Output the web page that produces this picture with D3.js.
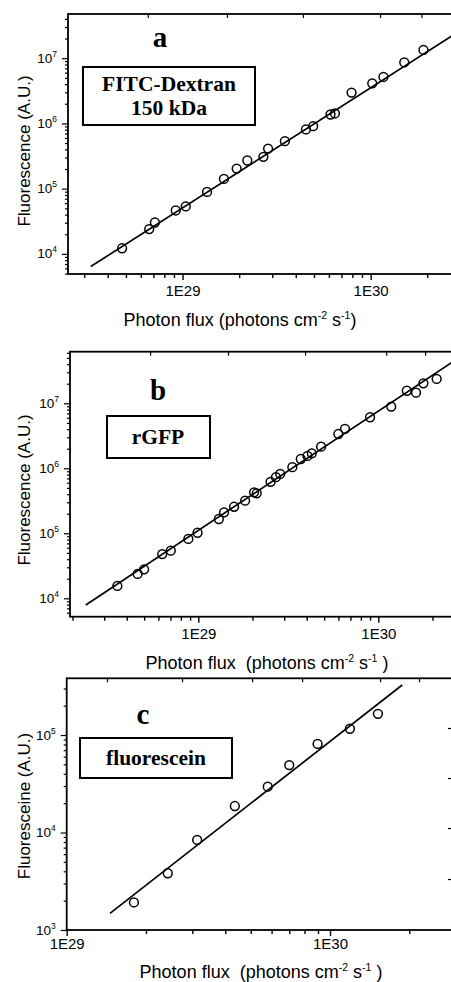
<!DOCTYPE html>
<html>
<head>
<meta charset="utf-8">
<script src="https://cdn.jsdelivr.net/npm/d3@7/dist/d3.min.js"></script>
<style>
  body { margin: 0; background: #fff; }
  svg text { white-space: pre; }
</style>
</head>
<body>
<div id="chart"></div>
<script>
// panel a : FITC-Dextran 150 kDa
var fluxA = [4.77e28, 6.65e28, 7.13e28, 9.2e28, 1.04e29, 1.35e29, 1.66e29, 1.94e29, 2.21e29, 2.69e29,
             2.85e29, 3.5e29, 4.53e29, 4.95e29, 6.12e29, 6.46e29, 7.92e29, 1.02e30, 1.17e30, 1.51e30, 1.91e30];
var fluorA = [1.22e4, 2.4e4, 3.03e4, 4.63e4, 5.35e4, 8.9e4, 1.41e5, 2.03e5, 2.7e5, 3.08e5,
              4.12e5, 5.35e5, 8.1e5, 9.08e5, 1.37e6, 1.42e6, 2.97e6, 4.12e6, 5.15e6, 8.6e6, 1.34e7];
var fitA = [[3.25e28, 6.4e3], [2.82e30, 2.37e7]];

// panel b : rGFP
var fluxB = [3.55e28, 4.6e28, 5.0e28, 6.3e28, 7.03e28, 8.8e28, 9.9e28, 1.3e29, 1.39e29, 1.58e29,
             1.82e29, 2.04e29, 2.11e29, 2.52e29, 2.7e29, 2.85e29, 3.33e29, 3.71e29, 4.04e29, 4.27e29,
             4.81e29, 6.0e29, 6.53e29, 9.0e29, 1.18e30, 1.44e30, 1.62e30, 1.78e30, 2.11e30];
var fluorB = [1.55e4, 2.37e4, 2.79e4, 4.8e4, 5.4e4, 8.2e4, 1.02e5, 1.66e5, 2.1e5, 2.56e5,
              3.18e5, 4.27e5, 4.12e5, 6.2e5, 7.3e5, 8.2e5, 1.04e6, 1.39e6, 1.55e6, 1.7e6,
              2.15e6, 3.37e6, 4.03e6, 6.1e6, 8.9e6, 1.56e7, 1.46e7, 2.03e7, 2.37e7];
var fitB = [[2.37e28, 7.9e3], [2.7e30, 4.7e7]];

// panel c : fluorescein
var fluxC = [1.8e29, 2.42e29, 3.13e29, 4.35e29, 5.8e29, 7.0e29, 8.97e29, 1.19e30, 1.52e30];
var fluorC = [1.92e3, 3.82e3, 8.4e3, 1.87e4, 2.95e4, 4.92e4, 8.1e4, 1.16e5, 1.65e5];
var fitC = [[1.46e29, 1.48e3], [1.88e30, 3.26e5]];

var xMajor = [1e29, 1e30];
var xMajorLabels = ["1E29", "1E30"];

var W = 451, H = 982;

var svg = d3.select('#chart').append('svg')
  .attr('width', W).attr('height', H)
  .style('font-family', '"Liberation Sans", Arial, sans-serif');

var panels = [
  { key: 'a', flux: fluxA, fluor: fluorA, fit: fitA,
    left: 68, right: 453, top: 14, bottom: 274,
    xExp: [28.391, 30.438], yExp: [3.692, 7.677], yMajor: [1e4, 1e5, 1e6, 1e7],
    topTicks: [28.815, 29.236, 29.64, 30.05, 30.27], rightTicks: [],
    yTitle: 'Fluorescence (A.U.)', yTitleY: 151,
    xTitle: 'Photon flux (photons cm', xTitleX: 240, xTitleY: 326, xTitleTail: ')',
    tickLabelDy: 22, letterX: 160, letterY: 47,
    box: [83, 67, 172, 58], boxLines: ['FITC-Dextran', '150 kDa'], boxBase: [91, 115], boxX: 169 },
  { key: 'b', flux: fluxB, fluor: fluorB, fit: fitB,
    left: 70, right: 453, top: 351.7, bottom: 616.7,
    xExp: [28.287, 30.415], yExp: [3.717, 7.794], yMajor: [1e4, 1e5, 1e6, 1e7],
    topTicks: [28.732, 29.165, 29.593, 30.044, 30.26], rightTicks: [],
    yTitle: 'Fluorescence (A.U.)', yTitleY: 490,
    xTitle: 'Photon flux  (photons cm', xTitleX: 267, xTitleY: 669, xTitleTail: ' )',
    tickLabelDy: 22, letterX: 158, letterY: 400,
    box: [107, 416, 103, 42], boxLines: ['rGFP'], boxBase: [444], boxX: 158 },
  { key: 'c', flux: fluxC, fluor: fluorC, fit: fitC,
    left: 66.7, right: 453, top: 678.3, bottom: 930,
    xExp: [29, 30.467], yExp: [3, 5.582], yMajor: [1e3, 1e4, 1e5],
    topTicks: [29.153, 29.438, 29.704, 29.894, 30.19, 30.338], rightTicks: [5.072, 4.559, 4.046, 3.523],
    yTitle: 'Fluoresceine (A.U.)', yTitleY: 806,
    xTitle: 'Photon flux  (photons cm', xTitleX: 261, xTitleY: 978, xTitleTail: ' )',
    tickLabelDy: 19, letterX: 143, letterY: 724,
    box: [80, 738, 152, 40], boxLines: ['fluorescein'], boxBase: [765], boxX: 156 }
];

// all 1..9 multiples inside a log domain
function logTicks(dom) {
  var out = [];
  for (var e = Math.floor(Math.log10(dom[0])); e <= Math.ceil(Math.log10(dom[1])); e++) {
    for (var m = 1; m <= 9; m++) {
      var v = m * Math.pow(10, e);
      if (v >= dom[0] * 0.999 && v <= dom[1] * 1.001) out.push(v);
    }
  }
  return out;
}

panels.forEach(function(p) {
  var x = d3.scaleLog()
    .domain([Math.pow(10, p.xExp[0]), Math.pow(10, p.xExp[1])])
    .range([p.left, p.right]);
  var y = d3.scaleLog()
    .domain([Math.pow(10, p.yExp[0]), Math.pow(10, p.yExp[1])])
    .range([p.bottom, p.top]);

  var g = svg.append('g').attr('id', 'panel_' + p.key);

  var clipId = 'clip_' + p.key;
  svg.append('clipPath').attr('id', clipId)
    .append('rect')
      .attr('x', p.left).attr('y', p.top)
      .attr('width', p.right - p.left).attr('height', p.bottom - p.top);

  // frame
  g.append('rect')
    .attr('x', p.left).attr('y', p.top)
    .attr('width', p.right - p.left).attr('height', p.bottom - p.top)
    .attr('fill', 'none').attr('stroke', '#000').attr('stroke-width', 1.8);

  var xMinor = logTicks(x.domain()).filter(function(v) { return xMajor.indexOf(v) < 0; });
  var yAll = logTicks(y.domain());
  var yMinor = yAll.filter(function(v) { return p.yMajor.indexOf(v) < 0; });

  // bottom axis: minor then major
  var bx = g.append('g').attr('transform', 'translate(0,' + p.bottom + ')');
  bx.call(d3.axisBottom(x).tickValues(xMinor).tickSize(4).tickFormat(''));
  var bxMaj = g.append('g').attr('transform', 'translate(0,' + p.bottom + ')');
  bxMaj.call(d3.axisBottom(x).tickValues(xMajor).tickSize(6).tickFormat(function(d, i) { return xMajorLabels[i]; }));
  [bx, bxMaj].forEach(function(a) {
    a.select('.domain').remove();
    a.selectAll('line').attr('stroke-width', 1.4);
    a.selectAll('text').attr('font-size', 15).attr('fill', '#000')
      .attr('dy', null).attr('y', p.tickLabelDy);
  });

  // left axis
  var ly = g.append('g').attr('transform', 'translate(' + p.left + ',0)');
  ly.call(d3.axisLeft(y).tickValues(yMinor).tickSize(3).tickFormat(''));
  var lyMaj = g.append('g').attr('transform', 'translate(' + p.left + ',0)');
  lyMaj.call(d3.axisLeft(y).tickValues(p.yMajor).tickSize(6).tickFormat(''));
  [ly, lyMaj].forEach(function(a) {
    a.select('.domain').remove();
    a.selectAll('line').attr('stroke-width', 1.2);
  });
  lyMaj.selectAll('.tick').append('text')
    .attr('x', -11).attr('y', 4).attr('text-anchor', 'end')
    .attr('fill', '#000').attr('font-size', 13.5)
    .text('10')
    .append('tspan')
      .attr('dy', -6).attr('font-size', 8.5)
      .text(function(d) { return Math.round(Math.log10(d)); });

  // top axis ticks (inward)
  var tx = g.append('g').attr('transform', 'translate(0,' + p.top + ')');
  tx.call(d3.axisTop(x).tickValues(p.topTicks.map(function(e) { return Math.pow(10, e); }))
    .tickSize(-4).tickFormat(''));
  tx.select('.domain').remove();
  tx.selectAll('line').attr('stroke-width', 1.2);

  // right axis ticks (inward)
  if (p.rightTicks.length) {
    var ry = g.append('g').attr('transform', 'translate(' + p.right + ',0)');
    ry.call(d3.axisRight(y).tickValues(p.rightTicks.map(function(e) { return Math.pow(10, e); }))
      .tickSize(-5).tickFormat(''));
    ry.select('.domain').remove();
    ry.selectAll('line').attr('stroke-width', 1.2);
  }

  // fit line
  g.append('path')
    .datum(p.fit)
    .attr('clip-path', 'url(#' + clipId + ')')
    .attr('fill', 'none').attr('stroke', '#000').attr('stroke-width', 1.7)
    .attr('d', d3.line().x(function(d) { return x(d[0]); }).y(function(d) { return y(d[1]); }));

  // data points
  g.append('g').selectAll('circle')
    .data(p.flux.map(function(f, i) { return [f, p.fluor[i]]; }))
    .enter().append('circle')
      .attr('cx', function(d) { return x(d[0]); })
      .attr('cy', function(d) { return y(d[1]); })
      .attr('r', 4.4)
      .attr('fill', 'none').attr('stroke', '#000').attr('stroke-width', 1.5);

  // panel letter
  g.append('text')
    .attr('x', p.letterX).attr('y', p.letterY)
    .attr('text-anchor', 'middle')
    .attr('font-family', '"Liberation Serif", "Times New Roman", serif')
    .attr('font-weight', 'bold').attr('font-size', 29)
    .text(p.key);

  // label box
  g.append('rect')
    .attr('x', p.box[0]).attr('y', p.box[1])
    .attr('width', p.box[2]).attr('height', p.box[3])
    .attr('fill', '#fff').attr('stroke', '#000').attr('stroke-width', 2);
  p.boxLines.forEach(function(t, i) {
    g.append('text')
      .attr('x', p.boxX).attr('y', p.boxBase[i])
      .attr('text-anchor', 'middle')
      .attr('font-family', '"Liberation Serif", "Times New Roman", serif')
      .attr('font-weight', 'bold').attr('font-size', 21.5)
      .text(t);
  });

  // y title
  g.append('text')
    .attr('transform', 'translate(30,' + p.yTitleY + ') rotate(-90)')
    .attr('text-anchor', 'middle')
    .attr('font-size', 17)
    .text(p.yTitle);

  // x title with superscripts
  var xt = g.append('text')
    .attr('x', p.xTitleX).attr('y', p.xTitleY)
    .attr('text-anchor', 'middle')
    .attr('font-size', 18);
  xt.append('tspan').text(p.xTitle);
  xt.append('tspan').attr('dy', -7).attr('font-size', 10.5).text('-2');
  xt.append('tspan').attr('dy', 7).text(' s');
  xt.append('tspan').attr('dy', -7).attr('font-size', 10.5).text('-1');
  xt.append('tspan').attr('dy', 7).text(p.xTitleTail);
});
</script>
</body>
</html>
